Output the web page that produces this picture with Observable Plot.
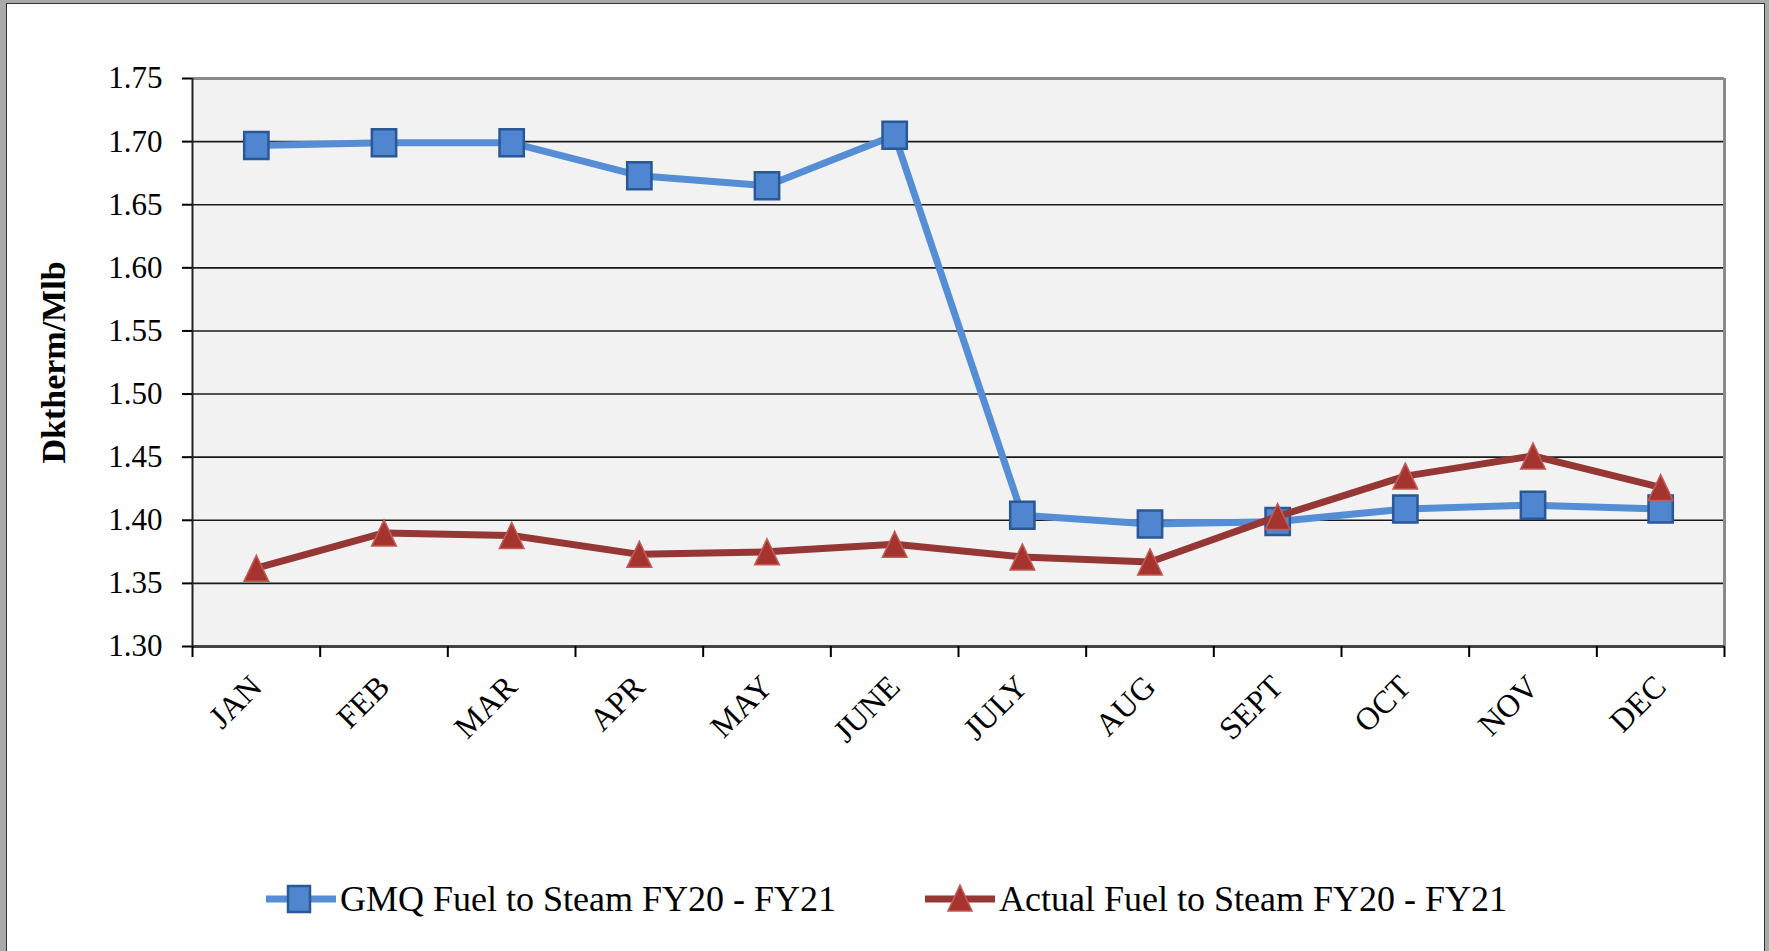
<!DOCTYPE html>
<html>
<head>
<meta charset="utf-8">
<script src="https://cdn.jsdelivr.net/npm/d3@7"></script>
<script src="https://cdn.jsdelivr.net/npm/@observablehq/plot@0.6"></script>
<style>
  html, body { margin: 0; padding: 0; }
  body { width: 1769px; height: 951px; background: #a9a9a9; position: relative; overflow: hidden; font-family: "Liberation Serif", "Times New Roman", serif; }
  #panel { position: absolute; left: 6px; top: 3px; width: 1757px; height: 1000px; background: #fff; border-left: 1.5px solid #333; border-top: 1.5px solid #333; border-right: 1.5px solid #333; }
  #chart { position: absolute; left: 0; top: 0; }
  #legend { position: absolute; left: 0; top: 872px; width: 1769px; height: 54px; }
  .item { position: absolute; top: 0; height: 54px; display: flex; align-items: center; font-size: 36px; color: #000; white-space: nowrap; }
  .item svg { display: block; margin-right: 4px; }
</style>
</head>
<body>
<div id="panel"></div>
<div id="chart"></div>
<div id="legend"></div>
<script>
// ---- data ----
const months = ["JAN", "FEB", "MAR", "APR", "MAY", "JUNE", "JULY", "AUG", "SEPT", "OCT", "NOV", "DEC"];
const gmq = [1.697, 1.699, 1.699, 1.673, 1.665, 1.705, 1.404, 1.397, 1.399, 1.409, 1.412, 1.409];
const actual = [1.362, 1.390, 1.388, 1.373, 1.375, 1.381, 1.371, 1.367, 1.403, 1.435, 1.451, 1.426];
const yTicks = [1.30, 1.35, 1.40, 1.45, 1.50, 1.55, 1.60, 1.65, 1.70, 1.75];
const seriesNames = ["GMQ Fuel to Steam FY20 - FY21", "Actual Fuel to Steam FY20 - FY21"];
const yTitle = "Dktherm/Mlb";

// table built from the arrays
const rows = months.map((m, i) => ({i, month: m, gmq: gmq[i], actual: actual[i]}));
const boundaries = d3.range(-0.5, months.length, 1);

// custom marker shapes (slightly taller than wide, like the original)
const rectSymbol = {
  draw(ctx, size) {
    const r = Math.sqrt(size / Math.PI), w = r * 0.9, h = r;
    ctx.moveTo(-w, -h); ctx.lineTo(w, -h); ctx.lineTo(w, h); ctx.lineTo(-w, h); ctx.closePath();
  }
};
const triSymbol = {
  draw(ctx, size) {
    const r = Math.sqrt(size / Math.PI), w = r * 0.95;
    ctx.moveTo(0, -r); ctx.lineTo(w, r); ctx.lineTo(-w, r); ctx.closePath();
  }
};

const blue = "#558ed5", blueFill = "#4f86cf", blueEdge = "#2b5797";
const red = "#953735", redFill = "#a5342f", redEdge = "#c55a57";

const chart = Plot.plot({
  width: 1769,
  height: 800,
  marginLeft: 192,
  marginRight: 45,
  marginTop: 78,
  marginBottom: 154,
  style: {fontFamily: "'Liberation Serif', 'Times New Roman', serif", fontSize: "31px", color: "#000", background: "transparent", overflow: "visible"},
  x: {type: "linear", domain: [-0.5, months.length - 0.5]},
  y: {domain: [yTicks[0], yTicks[yTicks.length - 1]]},
  marks: [
    Plot.frame({fill: "#f2f2f2", stroke: null}),
    Plot.ruleY(yTicks.slice(1, -1), {stroke: "#1a1a1a", strokeWidth: 1.6}),
    Plot.ruleY([yTicks[yTicks.length - 1]], {stroke: "#8a8a8a", strokeWidth: 3}),
    Plot.ruleX([boundaries[boundaries.length - 1]], {stroke: "#8a8a8a", strokeWidth: 3}),
    Plot.ruleY([yTicks[0]], {stroke: "#444", strokeWidth: 3}),
    Plot.ruleX([boundaries[0]], {stroke: "#222", strokeWidth: 2}),
    Plot.axisY({ticks: yTicks, tickFormat: d3.format(".2f"), tickSize: 10, tickPadding: 20, strokeWidth: 2, label: null}),
    Plot.axisX({ticks: boundaries, tickFormat: () => "", tickSize: 11, strokeWidth: 2, label: null}),
    Plot.axisX({ticks: d3.range(months.length), tickFormat: i => months[i], tickSize: 0, tickPadding: 35, tickRotate: -45, textAnchor: "end", lineAnchor: "middle", fontSize: 32, label: null}),
    Plot.text([yTitle], {frameAnchor: "left", textAnchor: "middle", lineAnchor: "middle", rotate: -90, dx: -138, fontWeight: "bold", fontSize: 34, fill: "#000"}),
    Plot.line(rows, {x: "i", y: "gmq", stroke: blue, strokeWidth: 7, strokeLinejoin: "round"}),
    Plot.dot(rows, {x: "i", y: "gmq", symbol: rectSymbol, r: 13.5, fill: blueFill, stroke: blueEdge, strokeWidth: 2.5}),
    Plot.line(rows, {x: "i", y: "actual", stroke: red, strokeWidth: 7, strokeLinejoin: "round"}),
    Plot.dot(rows, {x: "i", y: "actual", symbol: triSymbol, r: 13, fill: redFill, stroke: redEdge, strokeWidth: 1.5})
  ]
});
document.getElementById("chart").appendChild(chart);

// ---- legend (below the SVG) ----
const legend = document.getElementById("legend");
function swatch(kind) {
  const ns = "http://www.w3.org/2000/svg";
  const s = document.createElementNS(ns, "svg");
  s.setAttribute("width", 70); s.setAttribute("height", 40);
  const l = document.createElementNS(ns, "line");
  l.setAttribute("x1", 1); l.setAttribute("x2", 69); l.setAttribute("y1", 20); l.setAttribute("y2", 20);
  l.setAttribute("stroke", kind === "gmq" ? blue : red); l.setAttribute("stroke-width", 7);
  l.setAttribute("stroke-linecap", "round");
  s.appendChild(l);
  const p = document.createElementNS(ns, "path");
  if (kind === "gmq") {
    p.setAttribute("d", "M22,7H44V33H22Z");
    p.setAttribute("fill", blueFill); p.setAttribute("stroke", blueEdge); p.setAttribute("stroke-width", 2.5);
  } else {
    p.setAttribute("d", "M35,6L47,32H23Z");
    p.setAttribute("fill", redFill); p.setAttribute("stroke", redEdge); p.setAttribute("stroke-width", 1.5);
  }
  s.appendChild(p);
  return s;
}
[["gmq", 266], ["actual", 925]].forEach(([k, left], j) => {
  const d = document.createElement("div");
  d.className = "item";
  d.style.left = left + "px";
  d.appendChild(swatch(k));
  const t = document.createElement("span");
  t.textContent = seriesNames[j];
  d.appendChild(t);
  legend.appendChild(d);
});
</script>
</body>
</html>
